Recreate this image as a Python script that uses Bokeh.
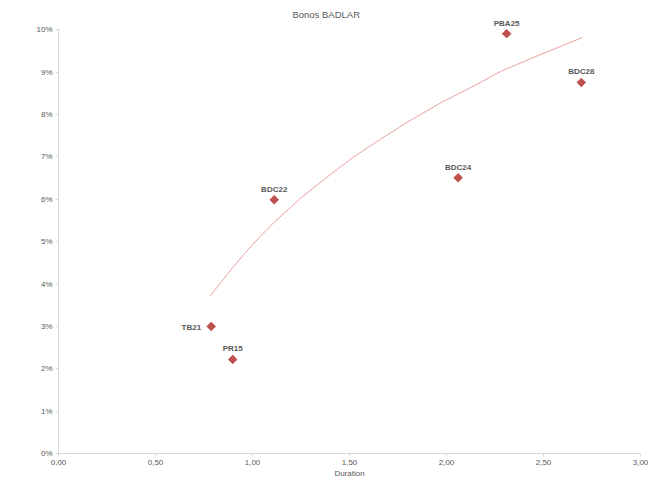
import math
from bokeh.plotting import figure
from bokeh.models import ColumnDataSource, FixedTicker, CustomJSTickFormatter, Range1d, LabelSet, Label
from bokeh.core.properties import value
from bokeh.embed import file_html
from bokeh.resources import INLINE

# Bond data (duration in years, yield in %)
names = ["TB21", "PR15", "BDC22", "BDC24", "PBA25", "BDC28"]
duration = [0.787, 0.898, 1.112, 2.060, 2.310, 2.695]
yields = [3.00, 2.22, 5.99, 6.51, 9.91, 8.76]

# Logarithmic trendline
trend_x = [0.782, 0.870, 0.959, 1.035, 1.112, 1.254, 1.380, 1.518, 1.660, 1.812, 1.975, 2.130, 2.279, 2.490, 2.701]
trend_y = [3.72, 4.23, 4.72, 5.10, 5.46, 6.05, 6.51, 6.99, 7.42, 7.86, 8.29, 8.65, 9.02, 9.43, 9.82]

x_ticks = [0.0, 0.5, 1.0, 1.5, 2.0, 2.5, 3.0]
y_ticks = [0, 1, 2, 3, 4, 5, 6, 7, 8, 9, 10]

FONT = "Liberation Sans"
GREY = "#595959"
RED = "#C0504D"

p = figure(width=648, height=480, output_backend="svg", toolbar_location=None,
           x_range=Range1d(0, 3), y_range=Range1d(0, 10.6),
           min_border_left=58, min_border_right=8, min_border_top=4, min_border_bottom=20)

p.outline_line_color = None
p.xgrid.visible = False
p.ygrid.visible = False

for ax in (p.xaxis[0], p.yaxis[0]):
    ax.axis_line_color = "#D9D9D9"
    ax.major_tick_line_color = "#D9D9D9"
    ax.minor_tick_line_color = None
    ax.major_tick_in = 0
    ax.major_tick_out = 3
    ax.major_label_text_font = FONT
    ax.major_label_text_font_size = "8px"
    ax.major_label_text_color = GREY
    ax.major_label_standoff = 3

p.yaxis.bounds = (0, 10)
p.xaxis.ticker = FixedTicker(ticks=x_ticks)
p.yaxis.ticker = FixedTicker(ticks=y_ticks)
p.xaxis.formatter = CustomJSTickFormatter(code="return tick.toFixed(2).replace('.', ',');")
p.yaxis.formatter = CustomJSTickFormatter(code="return tick.toFixed(0) + '%';")
p.xaxis.axis_label = "Duration"
p.xaxis.axis_label_text_font = FONT
p.xaxis.axis_label_text_font_size = "8px"
p.xaxis.axis_label_text_font_style = "normal"
p.xaxis.axis_label_text_color = GREY
p.xaxis.axis_label_standoff = 1

title = Label(x=1.38, y=10.36, text="Bonos BADLAR", text_align="center", text_baseline="middle",
              text_font=FONT, text_font_size="9.5px", text_color=GREY)
p.add_layout(title)

p.line(trend_x, trend_y, line_color="#E8A09E", line_width=1)

src = ColumnDataSource(dict(x=duration, y=yields, name=names,
                            xo=[-10, 0, 0, 0, 0, 0], yo=[-1, 6, 6, 6, 6, 6],
                            ta=["right", "center", "center", "center", "center", "center"],
                            tb=["middle", "bottom", "bottom", "bottom", "bottom", "bottom"]))
p.scatter("x", "y", source=src, marker="square", size=6, angle=math.pi / 4,
          fill_color=RED, line_color=RED)

labels = LabelSet(x="x", y="y", text="name", source=src, x_offset="xo", y_offset="yo",
                  text_align="ta", text_baseline="tb",
                  text_font=value(FONT), text_font_size="8px", text_font_style="bold", text_color=GREY)
p.add_layout(labels)

open("out.html", "w").write(file_html(p, INLINE))
